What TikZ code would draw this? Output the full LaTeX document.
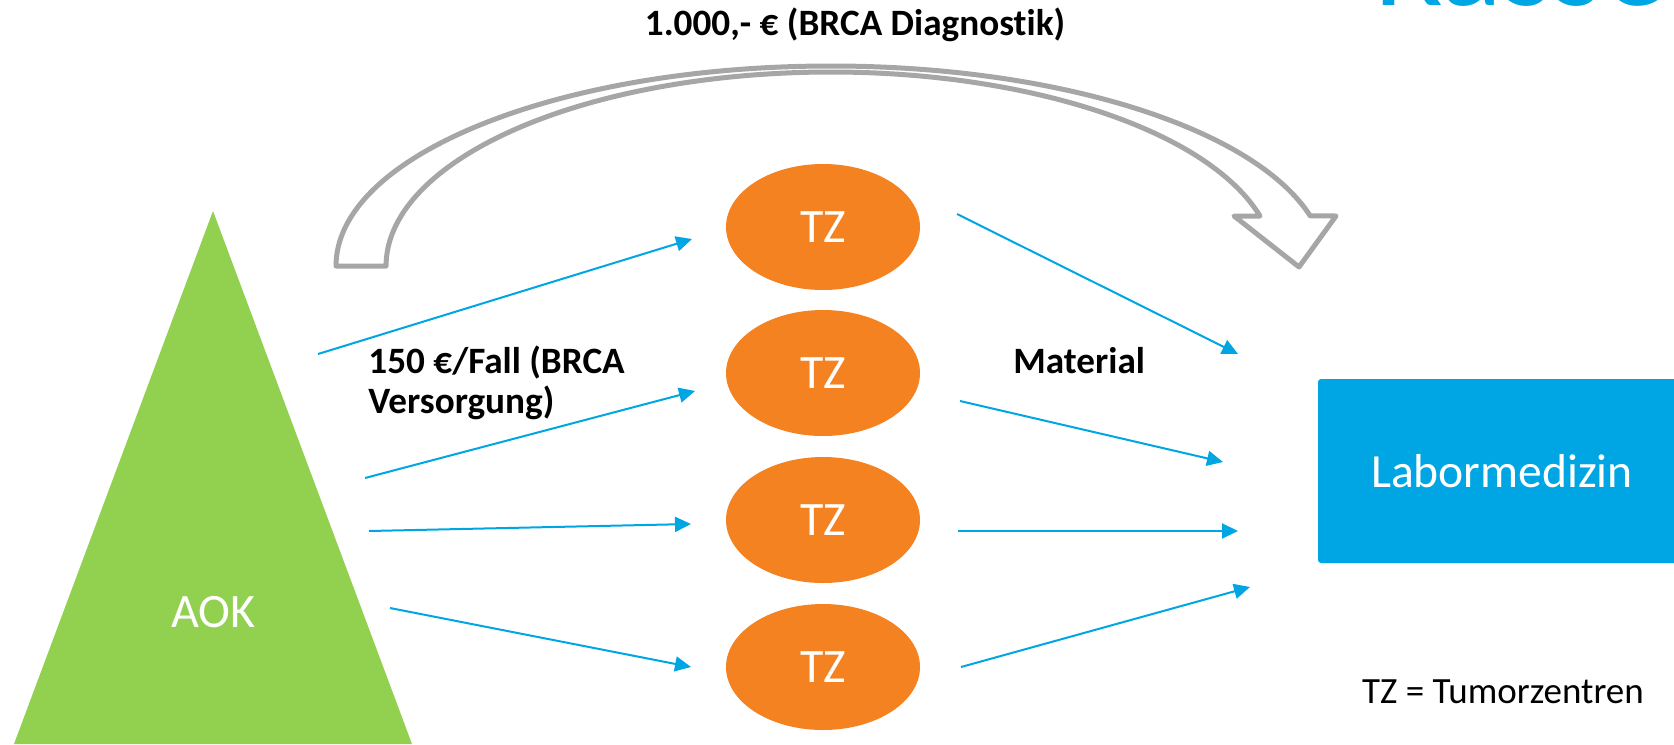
\documentclass[tikz,border=0pt]{standalone}
\usepackage{fontspec}
\setmainfont{Carlito}[Ligatures=CommonOff]
\usetikzlibrary{positioning}
\usetikzlibrary{shapes.geometric}
\usetikzlibrary{arrows.meta}
\definecolor{aokgreen}{HTML}{92D050}
\definecolor{tzorange}{HTML}{F58220}
\definecolor{laborblue}{HTML}{00A6E3}
\definecolor{bandgray}{HTML}{A6A6A6}
\tikzset{
    % Filled triangle tips for the flows
    >={Triangle[length=8pt, width=7.5pt]},
%
    % Tumour centre blobs
    tz node/.style={
        ellipse, fill=tzorange, text=white,
        font=\fontsize{24}{29}\selectfont,
        minimum width=97pt, minimum height=63pt, inner sep=0},
%
    % Thin blue flow arrows
    flow/.style={->, draw=laborblue, line width=1pt},
%
    % Bold captions on the flows
    caption/.style={font=\bfseries\fontsize{18.6}{20}\selectfont, inner sep=0}}

\begin{document}
\begin{tikzpicture}[x=0.5pt, y=-0.5pt]

\useasboundingbox (0,0) rectangle (1674,744);
\clip (0,0) rectangle (1674,744);

% Payer

\path [fill=aokgreen] (213,211) -- (412,744) -- (14,744) -- cycle;
\node [text=white, font=\fontsize{24}{29}\selectfont, anchor=base, inner sep=0]
    (aok) at (213,627) {AOK};

\node [text=laborblue, font=\fontsize{64.5}{70}\selectfont, anchor=base west, inner sep=0]
    (kasse) at (1375,5) {Kasse};

% Curved block arrow over the centres
\path [draw=bandgray, line width=2.5pt, fill=white, line join=round]
    (336,266) arc [start angle=180, end angle=345.5, x radius=495, y radius=200]
    -- (1336,216) -- (1299,267) -- (1234,216) -- (1260,216)
    arc [start angle=345.05, end angle=180, x radius=444.5, y radius=194]
    -- cycle;

\node [caption, anchor=base] (diagnostik) at (855,35)
    {1.000,- € (BRCA Diagnostik)};

% Tumour centres

\foreach \i/\y in {1/227, 2/373, 3/520, 4/667}
    \node [tz node] (tz\i) at (823,\y) {TZ};

\node [fill=laborblue, text=white, rounded corners=1.5pt,
    minimum width=184pt, minimum height=92pt,
    font=\fontsize{23.8}{28}\selectfont] (labor) at (1502,471) {Labormedizin};

\node [font=\fontsize{18.5}{22}\selectfont, anchor=base, inner sep=0]
    (legende) at (1503,703) {TZ = Tumorzentren};

\node [caption, anchor=base west, align=left] (pauschale) at (368,413)
    {150 €/Fall (BRCA\\Versorgung)};
\node [caption, anchor=base west] (material) at (1013,373) {Material};

% Flow ends
\coordinate (a1) at (318,354);  \coordinate (b1) at (692,239);
\coordinate (a2) at (365,478);  \coordinate (b2) at (695,391);
\coordinate (a3) at (369,531);  \coordinate (b3) at (691,524);
\coordinate (a4) at (390,608);  \coordinate (b4) at (691,667);
\coordinate (c1) at (957,214);  \coordinate (d1) at (1238,354);
\coordinate (c2) at (960,401);  \coordinate (d2) at (1223,462);
\coordinate (c3) at (958,531);  \coordinate (d3) at (1238,531);
\coordinate (c4) at (961,667);  \coordinate (d4) at (1250,587);

\foreach \i in {1,...,4} {
    \draw [flow] (a\i) -- (b\i);
    \draw [flow] (c\i) -- (d\i);
}

\end{tikzpicture}
\end{document}
